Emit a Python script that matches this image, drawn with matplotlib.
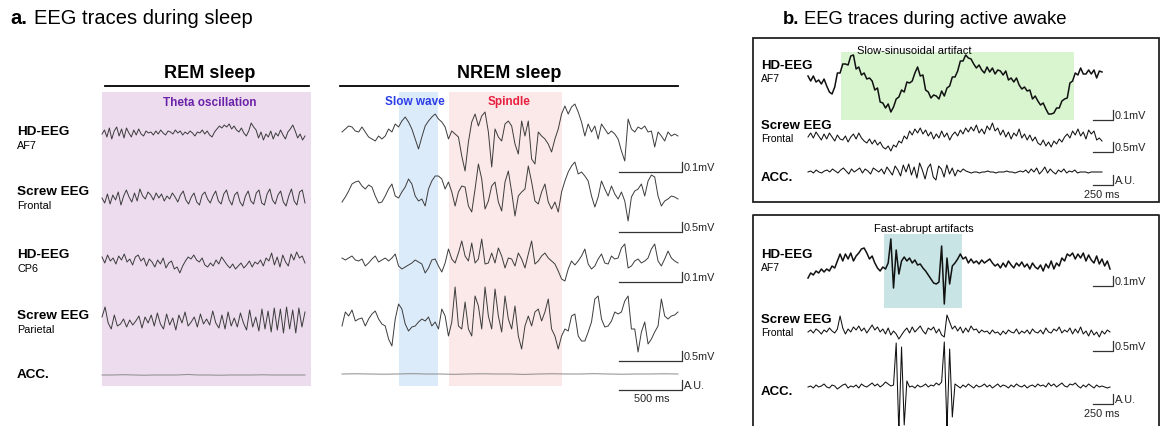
import matplotlib.pyplot as plt
import matplotlib.patches as mpatches
import numpy as np

plt.rcParams['font.family'] = ['Liberation Sans', 'DejaVu Sans']

# ---- data: trace deflections (upwards positive) ----
rem_af7 = [0, 4, -3, 6, -5, 3, 7, -2, 5, -4, 6, 1, -3, 4, -1, 5, 0, -2, 3, 1,
           2, -1, 3, 0, 4, 1, -1, 3, 2, 0, 4, 1, 3, -1, 2, 0, 3, 1, -2, 2,
           1, 4, 0, 3, -1, -3, 2, 5, 8, 6, 9, 7, 10, 5, 8, 4,
           2, 6, 1, -2, 3, 11, 7, 4,
           -4, 2, -6, 0, -3, 3, -5, 1, -2, 4, -1, -5, 2, 5, 9, 3, -4, 0, -6, -2]
rem_frontal = [0, -5, 4, -6, 3, -2, 6, -7, 2, 8, 1, -4, 5, -3, 9, 2, -1, 6, 3, -2,
               5, 0, 4, -3, 2, -1, 5, 1, -4, 3, 7, -2, -6, 1, 5, -4, -7, 3, 6, -1,
               -5, 2, 7, -3, -6, 4, 8, -2, -7, 3, 6, -4, -8, 2, 7, -3, -6, 5, 8, -5,
               -7, 4, 9, -2, -6, 3, 7, -4, -8, 2, 9, -3, -7, 6, 8, -5]
rem_cp6 = [6, 0, 8, 2, 5, -1, 7, 3, 9, 1, 4, -2, 6, 8, 2, 5, -3, 4, 1, -4,
           3, -1, 5, -5, 0, 2, -6, -4, -10, -3, 2, 6, 4, 8, 3, 1, 5, -2, -4, 0,
           -3, 3, -1, 6, 2, -2, -5, -1, -6, -3, 0, -5, -2, 2, -4, 1, -1, 3, -3, 5,
           2, 10, -2, 6, -4, 8, 1, -3, 9, 3, 11, 5, 7, 0]
rem_parietal = [4, 14, -2, -8, 6, -5, -3, 2, -6, 1, -4, 0, 5, -7, 4, -2, 6, -5, 8, -3,
                -8, 7, -4, 3, -9, 6, -2, 9, -5, -1, 4, -6, 7, -3, 2, -4, 10, -2, -7, 6,
                -8, 9, -5, 3, -6, 8, -2, -9, 11, -6, 4, -10, 12, -8, 10, -11, 13, -9, 12, -12,
                14, -8, 11, -12, 13, -6, 9]
rem_acc = [0, 0, 0.3, 0, -0.2, 0, 0, 0, 0.5, 0, 0, -0.2, 0, 0, 0, 0.2, 0, 0, 0, 0]

nrem_af7 = [0, 3, 6, 5, 1, 0, 5, 0, -5, -7, -9, -4, -7, -4, 3, 0, 8, 5, 11, 15,
            10, 3, -7, -17, -5, 6, 11, 15, 18, 13, 10, 5, -7, 1, -2, -5, -24, -39, -10, 10,
            18, 6, 16, 20, 0, -35, 3, -5, -9, 8, 11, 6, -12, -22, 11, -4, 11, -27, -32, 0,
            -4, -7, -12, -20, -7, 3, 18, 26, 18, 25, 28, 20, 10, -4, 8, 0, 6, -7, 8, 3,
            -2, 1, -2, -7, -19, -29, 13, 3, 0, 5, 3, 6, 0, 1, -15, 0, -4, -9, 0, -4,
            -2, -4]
nrem_frontal = [-10, -5, 1, 8, 10, 11, 6, 3, 7, 5, -4, -11, -10, -4, 3, 8, -4, -6, 0, 5,
                13, 8, -4, -9, -7, -14, 3, 11, 16, 16, 13, 3, 10, 0, -14, 0, 6, 5, -14, -20,
                3, 28, 13, -17, -9, 6, 10, -10, -19, 10, 21, 0, -24, -4, 0, 3, 26, 10, -9, -12,
                0, 8, -10, -17, -10, -20, 0, 11, 20, 26, 30, 18, 20, 16, 11, -4, -15, -5, 11, 3,
                -4, 6, -2, -7, 0, -9, -29, -5, 1, 3, 8, -4, 11, 17, 15, -4, -14, -9, -7, -4,
                -5, -7]
nrem_cp6 = [3, 1, 3, 5, 1, 0, 2, -5, -2, 2, 5, -1, 1, 3, 0, 3, 7, -5, -8, -6,
            -4, -2, 1, -1, -3, -12, -7, 1, 2, -5, -11, -2, 12, 2, -2, 8, 20, 5, 0, 18,
            -2, 2, 22, -3, -2, 8, -2, 13, 5, -7, 3, 2, -5, 8, 2, -7, 7, 20, -3, 0,
            5, 8, 3, 0, -3, -10, -18, -20, -8, 0, -4, 0, 5, 12, -3, -8, -5, 2, 7, -2,
            -3, 5, 2, 3, 13, 17, -7, -5, 0, 2, -2, 0, 3, 12, 17, 0, -5, 2, 10, 3,
            0, -2]
nrem_parietal = [-7, 7, 3, 9, -2, 0, 1, -7, 0, 5, 8, 0, -5, -7, -20, -27, 0, 15, 10, -5,
                 -12, -8, -7, -3, 0, -2, 2, -7, -3, -10, 10, 3, -17, -3, 32, -7, -10, 17, -10, -17,
                 23, 13, -10, 32, 3, -10, 30, 3, -13, 23, 0, -10, 13, -17, -30, -7, 3, -7, 7, 10,
                 -2, 7, 20, -10, -17, -30, -17, -10, -12, 3, 5, -17, -22, -22, -13, -3, 20, 23, 0, -8,
                 -7, -2, 7, 5, 7, 18, 23, -10, -10, -33, -13, -3, -25, -20, -13, -7, 20, 3, 0, 3,
                 4, 7]
nrem_acc = [0, 0.2, 0, -0.2, 0, 0.3, 0, 0, -0.3, 0, 0.2, 0, 0, -0.4, 0, 0.2, 0, 0, 0.3, 0,
            -0.2, 0, 0, 0.2, 0]

awk1_af7 = [10, 5, 10, 4, 6, 2, 7, 0, -6, -8, -1, 13, 13, 22, 22, 21, 30, 31, 17, 19,
            11, 13, 7, 8, 5, -4, -2, -16, -17, -22, -18, -26, -21, -13, -11, -4, -6, 4, 3, 5,
            13, 19, 10, 11, -4, -6, -12, -9, -10, -13, -5, -10, -2, 0, 9, 9, 15, 25, 25, 31,
            28, 27, 22, 18, 21, 16, 13, 19, 14, 18, 12, 16, 15, 11, 15, 6, 8, 4, 8, 1,
            -3, -1, -5, -4, -13, -10, -15, -19, -17, -23, -28, -28, -27, -22, -22, -15, -13, -12, 3, 5,
            13, 11, 18, 12, 12, 16, 12, 16, 8, 15, 14]
awk1_frontal = [0, 4, -1, 5, 1, -3, 3, -2, 4, 0, -4, 2, -2,
                -3, 1, -5, 0, 3, -2, 4, -1, -4, -6, -2, -7, -3, -8, -5, -10, -12, -9,
                -14, -8, -10, -4, -6, 1, -2, 6, 2, 8, 4,
                9, 3, 7, 1, 5, -2, 3, -1, 6, 0, 4, -3, 2, 5, 1, 7, 3, 9,
                5, 10, 6, 12, 4, 8, 3, 11, 7, 14, 6, 9,
                2, 7, 0, 5, -2, 4, 1, 8, -1, 3, -3, 2, -4, 0, -6,
                -8, -3, -9, -5, -10, -4, -7, -2, -5, 0,
                3, -1, 6, 2, 8, 1, 5, -2, 7, 3, 6, -3, -1, -4]
awk1_acc = [0, 1, -1, 2, 0, -1, 1, 2, 0, 3, 1, -1, 2, 4, 1, -2, 3, 0, 2, 4, -1, 3, 1, -2, 4, 2, 0,
            3, -2, 5, 1, -3, 6, 2, -4, 7, 0, 8, -3, 5, -6, 9, 2, -7, 4, 8, -5, -8, 6, 3, -5, 7, -2, 4, -4, 2, 0, 3,
            1, 0, -1, 0, 0, -1, 0, 0, 1, 0, 0, -1, 0, 0, 0, 1, 0, 0, -1, 0, 1, 0,
            2, -1, 3, 0, 4, -2, 1, 5, -1, 3, 0, -2, 2, 0, 3, -1, 1, 0, 2, -1, 0,
            0, 0, -1, 0, 0, 0, 0, 0]

awk2_af7 = [-12, -7, -9, -5, -7, -3, -6, -3, -5, 0, -2, 5, 12, 5, 12, 7, 13, 5, 10, 13,
            17, 18, 13, 7, 10, 3, -2, -5, -1, -3, 3, 27, -22, 16, -8, 5, 9, 5, 8, 3,
            6, 1, 2, -2, -5, -9, -13, -17, -18, -16, 20, -38, 8, -18, 0, 3, 7, 12, 7, 9,
            3, 7, 3, 5, 2, 6, 3, 5, 7, 3, 0, 2, -2, 3, -1, 5, 1, -2, 3, 0,
            4, -1, 2, -3, 3, -1, -3, 1, -5, 2, -2, 5, -3, 3, 0, 8, 5, 12, 10, 13,
            7, 12, 8, 13, 5, 11, 6, 3, 10, 2, 7, 0, 5, -3]
awk2_frontal = [0, 2, -1, 3, 1, -2, 2, 0, 4, 1, -1, 3, 16, 4, -2,
                3, 0, 5, 2, 6, 1, 4, -1, 3, 7, 2, 5, 0, 3, -2, 4, -3, 1, -2, -7, -3, 1,
                4, -1, 5, 0, 3, 6, 1, -2, 4, 2, 5, -1, 3, -3, -5, 17, 10, 3,
                6, 1, 5, -1, 4, 0, 6, 2, 3, -1, 2, 0, 1, -2, 2, -1, 0, -3, 1, -2,
                2, 0, -1, 3, -2, 1, -1, 2, -2, 3, 0, -1, 2, -2, 4, 0, -1, 3, 1, 5,
                -1, 2, 0, 4, -2, 3, -1, 5, -2, 1, -4, 2, -3, 0, -5, 1, -2, 2, 0]
awk2_acc = [0, 1, -1, 2, 0, 1, 3, 0, -1, 2, 1, -2, 0, 2, 3, -1, 1, 0, 2, -1, 3, 1, 0, 2, 4, 1, 3, 0, 2, 5, 3, 1, 2,
            44, -46, 40, -38, 6,
            0, 1, -1, 2, 0, 1, 3, 0, 2, 1, 4, 2, 5,
            45, -42, 38, -30,
            3, 1, -1, 2, 0, 3, 1, -1, 2, 0, 1, 3, 0, 2, -1, 1, 3, 0, 2, 1,
            -1, 2, 0, 3, 1, 0, 2, -1, 1, 2, 0, 3, 1, 2, 0, 4, 1, 3, 0, 2,
            4, 1, 0, 3, 2, 4, 1, -1, 2, 0, 3, 1, -1, 2, 0, 1, 0, -1, 0]

row_names = ['HD-EEG', 'Screw EEG', 'HD-EEG', 'Screw EEG', 'ACC.']
row_subs = ['AF7', 'Frontal', 'CP6', 'Parietal', '']
rem_traces = [rem_af7, rem_frontal, rem_cp6, rem_parietal, rem_acc]
nrem_traces = [nrem_af7, nrem_frontal, nrem_cp6, nrem_parietal, nrem_acc]
scale_labels_a = ['0.1mV', '0.5mV', '0.1mV', '0.5mV', 'A.U.']
awake_names = ['HD-EEG', 'Screw EEG', 'ACC.']
awake_subs = ['AF7', 'Frontal', '']
scale_labels_b = ['0.1mV', '0.5mV', 'A.U.']

W, H = 1162, 427
fig = plt.figure(figsize=(W / 100, H / 100), dpi=100)
bg = fig.add_axes([0, 0, 1, 1])
bg.set_xlim(0, W)
bg.set_ylim(H, 0)
bg.axis('off')


def trace(x0, x1, yc, vals, color='#3c3c3c', lw=0.7, half=40):
    ax = fig.add_axes([x0 / W, 1 - (yc + half) / H, (x1 - x0) / W, 2 * half / H])
    ax.plot(np.arange(len(vals)), vals, color=color, lw=lw, clip_on=False)
    ax.set_xlim(0, len(vals) - 1)
    ax.set_ylim(-half, half)
    ax.axis('off')
    ax.patch.set_visible(False)
    return ax


def scalebar(x0, x1, y, h, label, color='#333333'):
    bg.plot([x0, x1, x1], [y, y, y - h], color=color, lw=0.9)
    bg.text(x1 + 1.5, y - h / 2, label, fontsize=7.8, va='center', ha='left', color='#222222')


# ---------------- panel a ----------------
bg.text(10, 19, 'a.', fontsize=14.5, weight='bold', va='center')
bg.text(34, 19, 'EEG traces during sleep', fontsize=14.5, va='center')

bg.add_patch(mpatches.Rectangle((102, 93), 209, 294, color='#ecdcee', lw=0))
bg.add_patch(mpatches.Rectangle((399, 93), 39, 294, color='#dcebfa', lw=0))
bg.add_patch(mpatches.Rectangle((449, 93), 113, 294, color='#fbe8e8', lw=0))

bg.text(210, 74, 'REM sleep', fontsize=13, weight='bold', ha='center', va='center')
bg.plot([105, 309], [87, 87], color='k', lw=1.3)
bg.text(509, 74, 'NREM sleep', fontsize=13, weight='bold', ha='center', va='center')
bg.plot([340, 678], [87, 87], color='k', lw=1.3)

narrow = ['Liberation Sans Narrow', 'Liberation Sans', 'DejaVu Sans']
bg.text(210, 103, 'Theta oscillation', fontsize=8.5, weight='bold', color='#6c22a8',
        ha='center', va='center', family=narrow)
bg.text(415, 102, 'Slow wave', fontsize=8.5, weight='bold', color='#2b3de8',
        ha='center', va='center', family=narrow)
bg.text(509, 102, 'Spindle', fontsize=8.5, weight='bold', color='#e8203f',
        ha='center', va='center', family=narrow)

name_y = [132, 192, 255, 316, 375]
rem_y = [135, 199, 264, 322, 376]
nrem_y = [133, 193, 262, 320, 375]
bar_y = [173, 233, 283, 362, 391]
for i in range(5):
    bg.text(17, name_y[i], row_names[i], fontsize=9.7, weight='bold', va='center')
    if row_subs[i]:
        bg.text(17, name_y[i] + 14, row_subs[i], fontsize=7.8, va='center')
    c = '#8a8a8a' if i == 4 else '#3c3c3c'
    trace(102, 305, rem_y[i], rem_traces[i], color=c)
    trace(342, 678, nrem_y[i], nrem_traces[i], color=c)
    scalebar(619, 682, bar_y[i], 10, scale_labels_a[i])
bg.text(652, 399, '500 ms', fontsize=7.8, ha='center', va='center', color='#222222')

# ---------------- panel b ----------------
bg.text(783, 19, 'b.', fontsize=13.3, weight='bold', va='center')
bg.text(804, 19, 'EEG traces during active awake', fontsize=13.3, va='center')

bg.add_patch(mpatches.Rectangle((753, 39), 406, 164, fill=False, ec='#222222', lw=1.3))
bg.plot([753, 753, 1159, 1159], [430, 216, 216, 430], color='#222222', lw=1.3)

bg.add_patch(mpatches.Rectangle((841, 53), 233, 68, color='#d8f5d0', lw=0))
bg.add_patch(mpatches.Rectangle((884, 235), 78, 74, color='#c9e4e4', lw=0))
bg.text(857, 51, 'Slow-sinusoidal artifact', fontsize=8, va='center', family=narrow)
bg.text(924, 229, 'Fast-abrupt artifacts', fontsize=8, ha='center', va='center', family=narrow)

b_name_y = [66, 126, 178]
b_trace_y = [87, 138, 173]
b_bar_y = [121, 153, 186]
awake_traces = [[awk1_af7, awk1_frontal, awk1_acc], [awk2_af7, awk2_frontal, awk2_acc]]
b_trace_x1 = [1102, 1110]
b_trace_y2 = [267, 333, 388]
b_name_y2 = [255, 320, 392]
b_bar_y2 = [287, 352, 405]
for k in range(2):
    ny = b_name_y if k == 0 else b_name_y2
    ty = b_trace_y if k == 0 else b_trace_y2
    by = b_bar_y if k == 0 else b_bar_y2
    for i in range(3):
        bg.text(761, ny[i], awake_names[i], fontsize=9.5, weight='bold', va='center')
        if awake_subs[i]:
            bg.text(761, ny[i] + 13, awake_subs[i], fontsize=7.5, va='center')
        lw = 1.1 if i == 0 else 0.75
        trace(808, b_trace_x1[k], ty[i], awake_traces[k][i], color='#111111', lw=lw)
        scalebar(1093, 1113, by[i], 10, scale_labels_b[i])
    bg.text(1102, by[2] + 9, '250 ms', fontsize=7.8, ha='center', va='center',
            family=narrow, color='#222222')

fig.savefig('out.png', dpi=100)
